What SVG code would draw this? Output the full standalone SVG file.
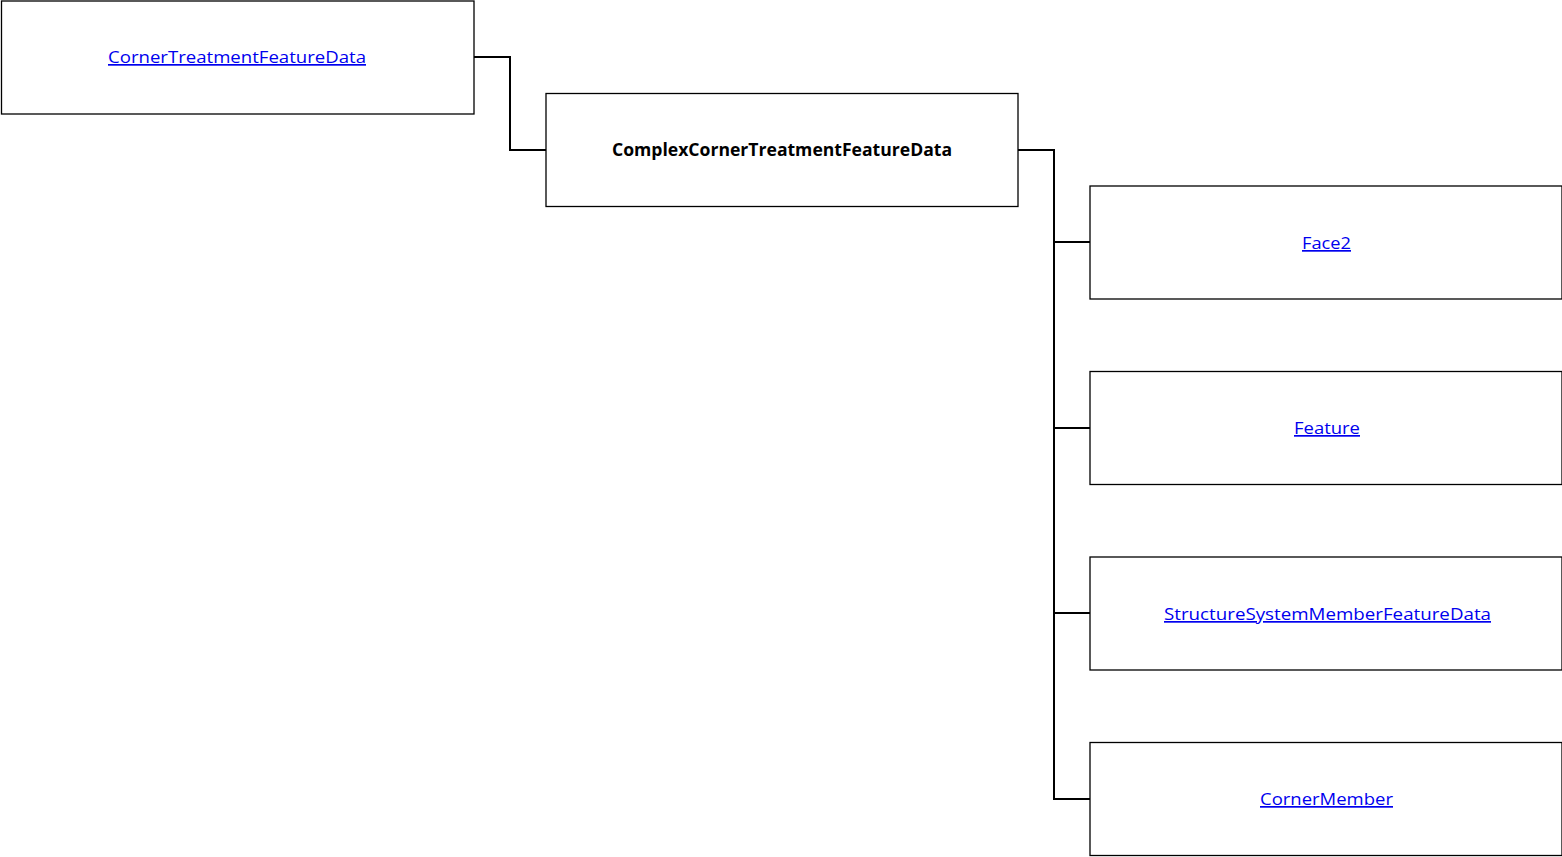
<svg xmlns="http://www.w3.org/2000/svg" width="1562" height="857" viewBox="0 0 1562 857">
<style>
.box{fill:#fff;stroke:#000;stroke-width:1.3}
.t{font-family:"Open Sans","Liberation Sans",sans-serif;font-size:17px;text-anchor:middle}
.link{fill:#0000ee;text-decoration:underline}
.b{font-weight:bold;fill:#000}
.c{fill:none;stroke:#000;stroke-width:2}
</style>
<rect width="1562" height="857" fill="#fff"/>
<g id="connectors">
<polyline class="c" points="474,57 510,57 510,150 546,150"/>
<polyline class="c" points="1018,150 1054,150 1054,799 1090,799"/>
<line class="c" x1="1054" y1="242" x2="1090" y2="242"/>
<line class="c" x1="1054" y1="428" x2="1090" y2="428"/>
<line class="c" x1="1054" y1="613" x2="1090" y2="613"/>
</g>
<g id="n1"><rect class="box" x="1.5" y="1" width="472.5" height="113"/><text class="t link" x="237" y="63" textLength="258" lengthAdjust="spacingAndGlyphs">CornerTreatmentFeatureData</text></g>
<g id="n2"><rect class="box" x="546" y="93.5" width="472" height="113"/><text class="t b" x="782" y="156" textLength="340" lengthAdjust="spacingAndGlyphs">ComplexCornerTreatmentFeatureData</text></g>
<g id="n3"><rect class="box" x="1090" y="186" width="472" height="113"/><text class="t link" x="1326.5" y="249" textLength="49" lengthAdjust="spacingAndGlyphs">Face2</text></g>
<g id="n4"><rect class="box" x="1090" y="371.5" width="472" height="113"/><text class="t link" x="1327" y="434" textLength="66" lengthAdjust="spacingAndGlyphs">Feature</text></g>
<g id="n5"><rect class="box" x="1090" y="557" width="472" height="113"/><text class="t link" x="1327.5" y="620" textLength="327" lengthAdjust="spacingAndGlyphs">StructureSystemMemberFeatureData</text></g>
<g id="n6"><rect class="box" x="1090" y="742.5" width="472" height="113"/><text class="t link" x="1326.5" y="805" textLength="133" lengthAdjust="spacingAndGlyphs">CornerMember</text></g>
</svg>
